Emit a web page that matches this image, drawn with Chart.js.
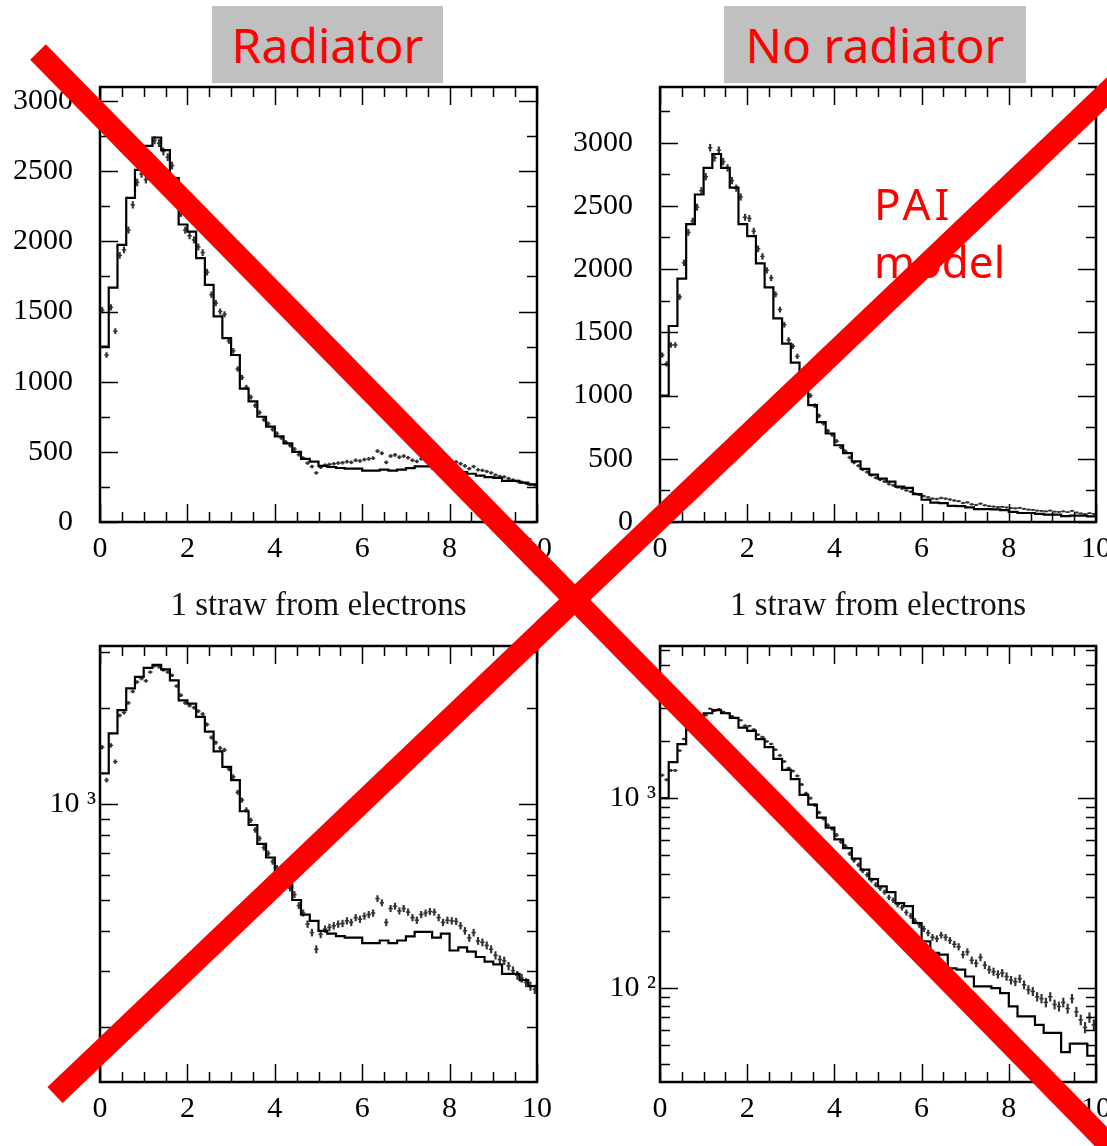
<!DOCTYPE html>
<html>
<head>
<meta charset="utf-8">
<title>Straw energy deposit</title>
<script src="https://cdn.jsdelivr.net/npm/chart.js@4.4.1/dist/chart.umd.min.js"></script>
<style>
  html, body { margin: 0; padding: 0; background: #fff; }
  body { position: relative; width: 1107px; height: 1146px; overflow: hidden; }
  canvas { position: absolute; }
  .tag {
    position: absolute; top: 6px; height: 77px; background: #c0c0c0; color: #ff0000;
    font: 48px "Comic Sans MS", "Noto Sans", sans-serif; line-height: 77px; text-align: center;
  }
  #marks { position: absolute; left: 0; top: 0; }
</style>
</head>
<body>
<canvas id="radLin" width="560" height="570" style="left:0;top:60px"></canvas>
<canvas id="noRadLin" width="547" height="570" style="left:560px;top:60px"></canvas>
<canvas id="radLog" width="560" height="516" style="left:0;top:630px"></canvas>
<canvas id="noRadLog" width="547" height="516" style="left:560px;top:630px"></canvas>

<div class="tag" style="left:212px;width:231px">Radiator</div>
<div class="tag" style="left:724px;width:302px">No radiator</div>

<svg id="marks" width="1107" height="1146">
  <g fill="#ff0000" font-family="Comic Sans MS, Noto Sans, sans-serif" font-size="44">
    <text x="874" y="220" letter-spacing="4">PAI</text>
    <text x="874" y="278">model</text>
  </g>
  <g stroke="#ff0000" stroke-width="22">
    <line x1="38" y1="52" x2="1118" y2="1154"/>
    <line x1="55" y1="1095" x2="1120" y2="80"/>
  </g>
</svg>

<script>
// histogram bins of 0.2, data points of 0.1
const BIN_W = 0.2;
const PT_W = 0.1;

// simulation, with radiator (0-10, 50 bins)
const radHist = [
  1250, 1670, 1975, 2310, 2510, 2680, 2740, 2650, 2450, 2120,
  2070, 1880, 1690, 1465, 1310, 1190, 950, 860, 750, 680,
  610, 560, 500, 450, 430, 400, 392, 385, 381, 381,
  366, 366, 373, 366, 373, 384, 397, 397, 381, 392,
  347, 355, 344, 331, 320, 314, 293, 293, 280, 268
];
// measured, with radiator (0-10, 100 points)
const radData = [
  1510, 1190, 1530, 1360, 1900, 1940, 2080, 2260, 2420, 2480,
  2440, 2600, 2720, 2700, 2640, 2600, 2540, 2350, 2200, 2080,
  2040, 2010, 1960, 1920, 1780, 1620, 1560, 1500, 1480, 1290,
  1220, 1090, 1030, 960, 890, 830, 780, 730, 700, 660,
  630, 600, 570, 545, 520, 480, 455, 420, 395, 350,
  390, 405, 410, 415, 420, 422, 430, 425, 440, 435,
  445, 450, 455, 505, 490, 425, 470, 478, 462, 470,
  458, 440, 432, 450, 455, 460, 458, 440, 425, 432,
  430, 428, 415, 400, 380, 395, 372, 368, 360, 350,
  335, 325, 322, 310, 300, 290, 284, 275, 268, 262
];

// simulation, no radiator
const noRadHist = [
  1000, 1550, 1925, 2355, 2590, 2800, 2910, 2800, 2645, 2355,
  2260, 2045, 1855, 1610, 1410, 1260, 1040, 925, 790, 700,
  607, 545, 480, 420, 375, 343, 320, 280, 270, 220,
  176, 153, 150, 127, 125, 115, 102, 102, 100, 94,
  80, 71, 71, 64, 58, 58, 46, 51, 51, 44
];
// measured, no radiator
const noRadData = [
  1320, 1250, 1400, 1400, 1780, 2050, 2290, 2380, 2490, 2620,
  2730, 2960, 2880, 2940, 2850, 2800, 2700, 2640, 2570, 2410,
  2400, 2300, 2160, 2100, 1990, 1930, 1800, 1680, 1560, 1440,
  1390, 1310, 1180, 1060, 1000, 920, 840, 780, 720, 690,
  640, 590, 560, 510, 470, 445, 415, 395, 370, 350,
  335, 320, 300, 290, 275, 265, 250, 240, 225, 215,
  205, 195, 185, 182, 190, 185, 178, 170, 165, 150,
  155, 140, 135, 145, 132, 125, 122, 118, 120, 115,
  110, 108, 112, 104, 98, 96, 90, 88, 84, 90,
  82, 80, 84, 78, 88, 75, 68, 62, 70, 64
];

// axis ticks
const xTicks = [0, 2, 4, 6, 8, 10];
const xMinorTicks = [0.5, 1, 1.5, 2.5, 3, 3.5, 4.5, 5, 5.5, 6.5, 7, 7.5, 8.5, 9, 9.5];
const linTicks = [0, 500, 1000, 1500, 2000, 2500, 3000];
const linMinorTicks = [250, 750, 1250, 1750, 2250, 2750, 3250];
const radLogTicks = [1000];
const radLogMinorTicks = [200, 300, 400, 500, 600, 700, 800, 900, 2000, 3000];
const noRadLogTicks = [100, 1000];
const noRadLogMinorTicks = [40, 50, 60, 70, 80, 90, 200, 300, 400, 500, 600, 700, 800, 900,
  2000, 3000, 4000, 5000, 6000];
const xTitle = '1 straw from electrons';

const serif = '"Liberation Serif", "DejaVu Serif", serif';
const tickFont = { family: serif, size: 30 };
const ink = '#000';
const pointInk = '#333';

// scaled Poisson errors for the measured points
const err = v => 0.5 * Math.sqrt(v);

const histLine = vals => vals.map((v, i) => ({ x: i * BIN_W, y: v }))
  .concat([{ x: vals.length * BIN_W, y: vals[vals.length - 1] }]);
const errBars = vals => vals.map((v, i) => ({ x: (i + 0.5) * PT_W, y: [v - err(v), v + err(v)] }));
const centres = vals => vals.map((v, i) => ({ x: (i + 0.5) * PT_W, y: v }));

// frame with inward ticks on all four sides, placed through the chart's own scales
const frameTicks = {
  id: 'frameTicks',
  afterDatasetsDraw(chart, args, o) {
    const { ctx, chartArea: a, scales: { x, y } } = chart;
    const inside = (s, v) => v >= s.min && v <= s.max;
    ctx.save();
    ctx.strokeStyle = '#000';
    ctx.lineWidth = 1.5;
    ctx.beginPath();
    const xMarks = (vals, len) => vals.filter(v => inside(x, v)).forEach(v => {
      const px = Math.round(x.getPixelForValue(v)) + 0.5;
      ctx.moveTo(px, a.bottom); ctx.lineTo(px, a.bottom - len);
      ctx.moveTo(px, a.top); ctx.lineTo(px, a.top + len);
    });
    const yMarks = (vals, len) => vals.filter(v => inside(y, v)).forEach(v => {
      const py = Math.round(y.getPixelForValue(v)) + 0.5;
      ctx.moveTo(a.left, py); ctx.lineTo(a.left + len, py);
      ctx.moveTo(a.right, py); ctx.lineTo(a.right - len, py);
    });
    xMarks(o.x, 18);
    xMarks(o.xMinor, 10);
    yMarks(o.y, 18);
    yMarks(o.yMinor, 10);
    ctx.stroke();
    ctx.lineWidth = 2.5;
    ctx.strokeRect(a.left, a.top, a.right - a.left, a.bottom - a.top);
    ctx.restore();
  }
};

function panel(id, hist, data, y, padding) {
  const fixSize = size => s => {
    if (s.isHorizontal()) s.height = size; else s.width = size;
    s.paddingLeft = s.paddingRight = s.paddingTop = s.paddingBottom = 0;
  };
  new Chart(document.getElementById(id), {
    type: 'scatter',
    data: {
      datasets: [
        {
          type: 'line', data: histLine(hist), stepped: 'before',
          borderColor: '#000', borderWidth: 2.2, pointRadius: 0, fill: false, order: 0
        },
        {
          type: 'bar', data: errBars(data), grouped: false, barThickness: 1.5,
          backgroundColor: pointInk, borderWidth: 0, order: 1
        },
        {
          type: 'scatter', data: centres(data), pointStyle: 'line', pointRadius: 2.2,
          borderColor: pointInk, borderWidth: 1.5, order: 1
        }
      ]
    },
    options: {
      responsive: false,
      animation: false,
      events: [],
      layout: { padding },
      plugins: {
        legend: { display: false },
        tooltip: { enabled: false },
        frameTicks: { x: xTicks, xMinor: xMinorTicks, y: y.ticks, yMinor: y.minorTicks }
      },
      scales: {
        x: {
          type: 'linear', min: 0, max: 10, offset: false,
          afterBuildTicks: s => { s.ticks = xTicks.map(v => ({ value: v })); },
          afterFit: fixSize(y.xSize),
          grid: { display: false, drawTicks: false },
          border: { display: false },
          ticks: { autoSkip: false, maxRotation: 0, padding: 9, font: tickFont, color: ink, callback: v => String(v) },
          title: y.title
            ? { display: true, text: y.title, color: '#111', font: { family: serif, size: 33 }, padding: { top: 0, bottom: 4 } }
            : { display: false }
        },
        y: {
          type: y.type, min: y.min, max: y.max, offset: false,
          afterBuildTicks: s => { s.ticks = y.ticks.map(v => ({ value: v })); },
          afterFit: fixSize(100),
          grid: { display: false, drawTicks: false },
          border: { display: false },
          ticks: { autoSkip: false, padding: y.pad, font: tickFont, color: ink, callback: y.label }
        }
      }
    },
    plugins: [frameTicks]
  });
}

const linLabel = v => String(v);
const logLabel = v => '10 ' + (v === 100 ? '\u00b2' : '\u00b3');

panel('radLin', radHist, radData,
  { type: 'linear', min: 0, max: 3100, ticks: linTicks, minorTicks: linMinorTicks,
    label: linLabel, pad: 27, xSize: 108, title: xTitle },
  { top: 27, right: 23, left: 0, bottom: 0 });

panel('noRadLin', noRadHist, noRadData,
  { type: 'linear', min: 0, max: 3440, ticks: linTicks, minorTicks: linMinorTicks,
    label: linLabel, pad: 27, xSize: 108, title: xTitle },
  { top: 27, right: 11, left: 0, bottom: 0 });

panel('radLog', radHist, radData,
  { type: 'logarithmic', min: 134, max: 3140, ticks: radLogTicks, minorTicks: radLogMinorTicks,
    label: logLabel, pad: 4, xSize: 64 },
  { top: 16, right: 23, left: 0, bottom: 0 });

panel('noRadLog', noRadHist, noRadData,
  { type: 'logarithmic', min: 32, max: 6330, ticks: noRadLogTicks, minorTicks: noRadLogMinorTicks,
    label: logLabel, pad: 4, xSize: 64 },
  { top: 16, right: 11, left: 0, bottom: 0 });
</script>
</body>
</html>
